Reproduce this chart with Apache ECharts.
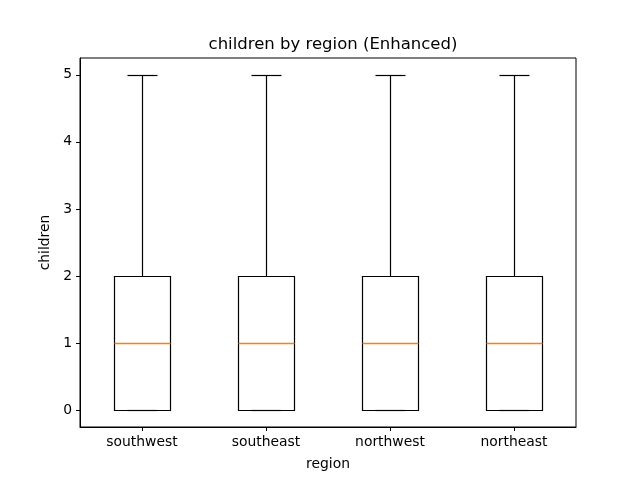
<!DOCTYPE html>
<html><head><meta charset="utf-8">
<script src="https://cdn.jsdelivr.net/npm/echarts@6/dist/echarts.min.js"></script>
<style>html,body{margin:0;padding:0;background:#fff}#c{width:640px;height:480px}</style>
</head><body><div id="c"></div>
<script>
var regions = ['southwest', 'southeast', 'northwest', 'northeast'];
var whiskerLow = [0, 0, 0, 0];
var q1 = [0, 0, 0, 0];
var medians = [1, 1, 1, 1];
var q3 = [2, 2, 2, 2];
var whiskerHigh = [5, 5, 5, 5];
var yTicks = [0, 1, 2, 3, 4, 5];

var FONT = 'DejaVu Sans';
var chart = echarts.init(document.getElementById('c'), null, {renderer: 'canvas'});
var data = regions.map(function (r, i) {
  return [i, whiskerLow[i], q1[i], medians[i], q3[i], whiskerHigh[i]];
});
var medData = regions.map(function (r, i) { return [i, medians[i]]; });
function px(v) { return Math.round(v) + 0.5; }
function renderBox(params, api) {
  var idx = api.value(0);
  var band = api.size([1, 0])[0];
  var cx = api.coord([idx, 0])[0];
  var halfBox = band * 0.225, halfCap = band * 0.12;
  var yLo = px(api.coord([idx, api.value(1)])[1]);
  var yQ1 = px(api.coord([idx, api.value(2)])[1]);
  var yQ3 = px(api.coord([idx, api.value(4)])[1]);
  var yHi = px(api.coord([idx, api.value(5)])[1]);
  var xl = px(cx - halfBox), xr = px(cx + halfBox), xc = px(cx);
  var cl = px(cx - halfCap), cr = px(cx + halfCap);
  var black = {stroke: '#000000', lineWidth: 1.2, fill: null};
  return {
    type: 'group',
    children: [
      {type: 'line', shape: {x1: xc, y1: yQ1, x2: xc, y2: yLo}, style: black},
      {type: 'line', shape: {x1: xc, y1: yQ3, x2: xc, y2: yHi}, style: black},
      {type: 'line', shape: {x1: cl, y1: yLo, x2: cr, y2: yLo}, style: black},
      {type: 'line', shape: {x1: cl, y1: yHi, x2: cr, y2: yHi}, style: black},
      {type: 'rect', shape: {x: xl, y: yQ3, width: xr - xl, height: yQ1 - yQ3}, style: {stroke: '#000000', lineWidth: 1.2, fill: 'none'}}
    ]
  };
}
function renderMedian(params, api) {
  var idx = api.value(0);
  var band = api.size([1, 0])[0];
  var cx = api.coord([idx, 0])[0];
  var halfBox = band * 0.225;
  var yMed = px(api.coord([idx, api.value(1)])[1]);
  return {
    type: 'line',
    shape: {x1: px(cx - halfBox), y1: yMed, x2: px(cx + halfBox), y2: yMed},
    style: {stroke: api.visual('color'), lineWidth: 1.4}
  };
}
chart.setOption({
  animation: false,
  backgroundColor: '#fff',
  title: {
    text: 'children by region (Enhanced)',
    left: 328, top: 31, textAlign: 'center',
    textStyle: {fontFamily: FONT, fontSize: 16.5, fontWeight: 'normal', color: '#000'}
  },
  grid: {left: 80, right: 64, top: 58, bottom: 53, show: true, borderColor: '#000', borderWidth: 1, backgroundColor: 'transparent'},
  xAxis: {
    type: 'category', data: regions, boundaryGap: true,
    name: 'region', nameLocation: 'middle', nameGap: 30,
    nameTextStyle: {fontFamily: FONT, fontSize: 13.9, color: '#000'},
    axisLine: {show: true, onZero: false, lineStyle: {color: '#000', width: 1}},
    axisTick: {show: true, alignWithLabel: true, length: 4, lineStyle: {color: '#000', width: 1}},
    axisLabel: {margin: 8, fontFamily: FONT, fontSize: 13.9, color: '#000'},
    splitLine: {show: false}
  },
  yAxis: {
    type: 'value', min: -0.25, max: 5.25,
    name: 'children', nameLocation: 'middle', nameGap: 25,
    nameTextStyle: {fontFamily: FONT, fontSize: 13.9, color: '#000'},
    axisLine: {show: true, onZero: false, lineStyle: {color: '#000', width: 1}},
    axisTick: {show: true, length: 4, customValues: yTicks, lineStyle: {color: '#000', width: 1}},
    axisLabel: {margin: 8, fontFamily: FONT, fontSize: 13.9, color: '#000', customValues: yTicks},
    splitLine: {show: false}
  },
  series: [{
    type: 'custom', renderItem: renderBox, data: data,
    encode: {x: 0, y: [1, 2, 3, 4, 5]}, clip: false
  }, {
    type: 'custom', renderItem: renderMedian, data: medData,
    itemStyle: {color: '#ff7f0e'},
    encode: {x: 0, y: 1}, clip: false, z: 3
  }]
});
</script></body></html>
